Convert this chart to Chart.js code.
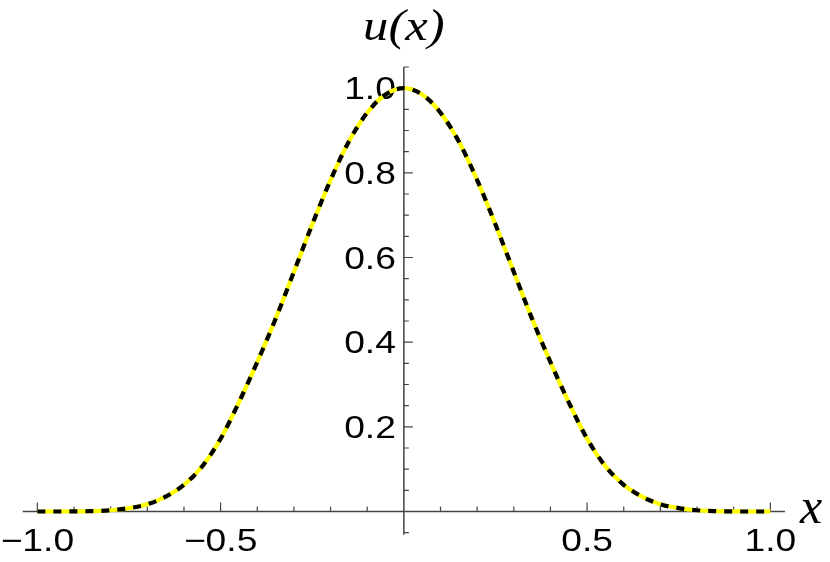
<!DOCTYPE html>
<html>
<head>
<meta charset="utf-8">
<script src="https://cdn.jsdelivr.net/npm/chart.js@4.4.0/dist/chart.umd.min.js"></script>
<style>
html,body{margin:0;padding:0;background:#fff;}
#c{display:block;}
</style>
</head>
<body>
<canvas id="c" width="830" height="562"></canvas>
<script>
// ---- data ----
const xValues = [-1.00,-0.95,-0.90,-0.85,-0.80,-0.75,-0.70,-0.65,-0.60,-0.55,-0.50,-0.45,-0.40,-0.35,-0.30,-0.25,-0.20,-0.15,-0.10,-0.05,0.00,
                 0.05,0.10,0.15,0.20,0.25,0.30,0.35,0.40,0.45,0.50,0.55,0.60,0.65,0.70,0.75,0.80,0.85,0.90,0.95,1.00];
const uValues = [0.000,0.000,0.0002,0.001,0.003,0.008,0.017,0.035,0.063,0.107,0.172,0.258,0.353,0.455,0.566,0.678,0.783,0.874,0.942,0.985,1.000,
                 0.985,0.942,0.874,0.783,0.678,0.566,0.455,0.353,0.258,0.172,0.107,0.063,0.035,0.017,0.008,0.003,0.001,0.0002,0.000,0.000];
const xTickValues = [-1.0,-0.5,0.5,1.0];
const xTickLabels = ['\u22121.0','\u22120.5','0.5','1.0'];
const yTickValues = [0.2,0.4,0.6,0.8,1.0];
const yTickLabels = ['0.2','0.4','0.6','0.8','1.0'];
const xAxisTitle = 'x';
const yAxisTitle = 'u(x)';

const points = xValues.map((x,i)=>({x:x, y:uValues[i]}));

const AXIS_COLOR = '#444444';
const STRETCH = 1.2;

function stretchedText(ctx, text, x, y, align, stretch){
  ctx.save();
  ctx.translate(x, y);
  ctx.scale(stretch, 1);
  ctx.textAlign = align;
  ctx.fillText(text, 0, 0);
  ctx.restore();
}

const axesPlugin = {
  id: 'mmaAxes',
  beforeDatasetsDraw(chart){
    const ctx = chart.ctx;
    const xs = chart.scales.x, ys = chart.scales.y;
    const x0 = xs.getPixelForValue(0), y0 = ys.getPixelForValue(0);
    ctx.save();
    ctx.strokeStyle = AXIS_COLOR;
    ctx.lineWidth = 1.5;
    ctx.beginPath();
    ctx.moveTo(xs.left, y0); ctx.lineTo(xs.right, y0);
    ctx.moveTo(x0, ys.top); ctx.lineTo(x0, ys.bottom);
    ctx.stroke();
    ctx.lineWidth = 1.2;
    ctx.beginPath();
    for (let k=-10;k<=10;k++){
      if (k===0) continue;
      const px = xs.getPixelForValue(k/10);
      const len = (k%5===0) ? 9 : 5;
      ctx.moveTo(px, y0); ctx.lineTo(px, y0-len);
    }
    for (let k=-1;k<=21;k++){
      if (k===0) continue;
      const py = ys.getPixelForValue(k/20);
      const len = (k%4===0) ? 9 : 5;
      ctx.moveTo(x0, py); ctx.lineTo(x0+len, py);
    }
    ctx.stroke();
    ctx.fillStyle = '#000';
    ctx.font = '31px "Liberation Sans", Arial, sans-serif';
    ctx.textBaseline = 'alphabetic';
    xTickValues.forEach((v,i)=>{
      stretchedText(ctx, xTickLabels[i], xs.getPixelForValue(v), y0+39, 'center', STRETCH);
    });
    yTickValues.forEach((v,i)=>{
      stretchedText(ctx, yTickLabels[i], x0-8, ys.getPixelForValue(v)+11, 'right', STRETCH);
    });
    ctx.font = 'italic 44px "Liberation Serif", "Times New Roman", serif';
    stretchedText(ctx, yAxisTitle, x0, 40, 'center', 1.15);
    ctx.font = 'italic 50px "Liberation Serif", "Times New Roman", serif';
    stretchedText(ctx, xAxisTitle, 800, y0+11, 'left', 1.0);
    ctx.restore();
  }
};

new Chart(document.getElementById('c'), {
  type: 'scatter',
  data: {
    datasets: [
      { data: points, showLine: true, borderColor: '#000000', borderWidth: 4.2, borderDash: [8,8],
        pointRadius: 0, cubicInterpolationMode: 'monotone', order: 0, borderCapStyle: 'butt' },
      { data: points, showLine: true, borderColor: '#ffff00', borderWidth: 4.2,
        pointRadius: 0, cubicInterpolationMode: 'monotone', order: 1 }
    ]
  },
  options: {
    responsive: false,
    animation: false,
    events: [],
    layout: { padding: { left: 22.7, right: 45, top: 67, bottom: 27.2 } },
    plugins: { legend: { display: false }, tooltip: { enabled: false } },
    scales: {
      x: { type: 'linear', min: -1.04, max: 1.04, display: false },
      y: { type: 'linear', min: -0.055, max: 1.05, display: false }
    }
  },
  plugins: [axesPlugin]
});
</script>
</body>
</html>
